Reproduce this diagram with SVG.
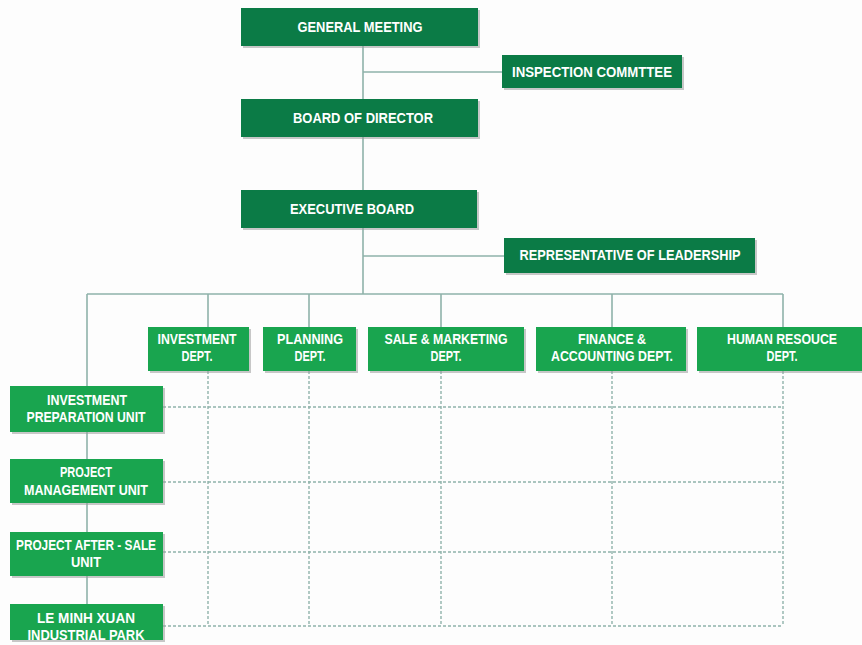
<svg xmlns="http://www.w3.org/2000/svg" width="862" height="645" viewBox="0 0 862 645">
  <style>
    .bg { fill: #fdfdfd; }
    .shadow { fill: #9a9a9a; opacity: 0.55; }
    .dark { fill: #0b7b46; }
    .light { fill: #19a54f; }
    .label { font-family: "Liberation Sans", Arial, sans-serif; font-weight: bold; font-size: 14px; fill: #ffffff; text-anchor: middle; }
    .line { stroke: #8fb2aa; stroke-width: 1.6; fill: none; }
    .dash { stroke: #8fb2aa; stroke-width: 1.4; fill: none; stroke-dasharray: 3 2; }
  </style>
  <rect class="bg" x="0" y="0" width="862" height="645"/>

  <!-- connectors -->
  <g id="connectors">
    <path class="line" d="M363 46V99 M363 137V190 M363 228V294 M363 72H502 M363 256H504"/>
    <path class="line" d="M87 294H783 M87 294V386 M208 294V327 M309 294V327 M441 294V327 M612 294V327 M783 294V327"/>
    <path class="line" d="M87 432V459 M87 503V532 M87 576V604"/>
    <path class="dash" d="M208 371V626 M309 371V626 M441 371V626 M612 371V626 M783 371V626"/>
    <path class="dash" d="M163 407H783 M163 482H783 M163 552H783 M163 626H783"/>
  </g>

  <!-- upper levels -->
  <g id="general-meeting">
    <rect class="shadow" x="243" y="10" width="237" height="38"/>
    <rect class="dark" x="241" y="8" width="237" height="38"/>
    <text class="label" x="360" y="32" textLength="125" lengthAdjust="spacingAndGlyphs">GENERAL MEETING</text>
  </g>
  <g id="inspection-committee">
    <rect class="shadow" x="504" y="57" width="180" height="33"/>
    <rect class="dark" x="502" y="55" width="180" height="33"/>
    <text class="label" x="592" y="77" textLength="160" lengthAdjust="spacingAndGlyphs">INSPECTION COMMTTEE</text>
  </g>
  <g id="board-of-director">
    <rect class="shadow" x="243" y="101" width="237" height="38"/>
    <rect class="dark" x="241" y="99" width="237" height="38"/>
    <text class="label" x="363" y="123" textLength="140" lengthAdjust="spacingAndGlyphs">BOARD OF DIRECTOR</text>
  </g>
  <g id="executive-board">
    <rect class="shadow" x="243" y="192" width="236" height="38"/>
    <rect class="dark" x="241" y="190" width="236" height="38"/>
    <text class="label" x="352" y="214" textLength="124" lengthAdjust="spacingAndGlyphs">EXECUTIVE BOARD</text>
  </g>
  <g id="representative-of-leadership">
    <rect class="shadow" x="506" y="240" width="251" height="35"/>
    <rect class="dark" x="504" y="238" width="251" height="35"/>
    <text class="label" x="630" y="260" textLength="221" lengthAdjust="spacingAndGlyphs">REPRESENTATIVE OF LEADERSHIP</text>
  </g>

  <!-- departments -->
  <g id="investment-dept">
    <rect class="shadow" x="150" y="329" width="101" height="44"/>
    <rect class="light" x="148" y="327" width="101" height="44"/>
    <text class="label" x="197" y="344" textLength="79" lengthAdjust="spacingAndGlyphs">INVESTMENT</text>
    <text class="label" x="197" y="361" textLength="31" lengthAdjust="spacingAndGlyphs">DEPT.</text>
  </g>
  <g id="planning-dept">
    <rect class="shadow" x="265" y="329" width="93" height="44"/>
    <rect class="light" x="263" y="327" width="93" height="44"/>
    <text class="label" x="310" y="344" textLength="66" lengthAdjust="spacingAndGlyphs">PLANNING</text>
    <text class="label" x="310" y="361" textLength="31" lengthAdjust="spacingAndGlyphs">DEPT.</text>
  </g>
  <g id="sale-marketing-dept">
    <rect class="shadow" x="370" y="329" width="156" height="44"/>
    <rect class="light" x="368" y="327" width="156" height="44"/>
    <text class="label" x="446" y="344" textLength="123" lengthAdjust="spacingAndGlyphs">SALE &amp; MARKETING</text>
    <text class="label" x="446" y="361" textLength="31" lengthAdjust="spacingAndGlyphs">DEPT.</text>
  </g>
  <g id="finance-accounting-dept">
    <rect class="shadow" x="538" y="329" width="150" height="44"/>
    <rect class="light" x="536" y="327" width="150" height="44"/>
    <text class="label" x="612" y="344" textLength="68" lengthAdjust="spacingAndGlyphs">FINANCE &amp;</text>
    <text class="label" x="612" y="361" textLength="122" lengthAdjust="spacingAndGlyphs">ACCOUNTING DEPT.</text>
  </g>
  <g id="human-resource-dept">
    <rect class="shadow" x="699" y="329" width="165" height="44"/>
    <rect class="light" x="697" y="327" width="165" height="44"/>
    <text class="label" x="782" y="344" textLength="110" lengthAdjust="spacingAndGlyphs">HUMAN RESOUCE</text>
    <text class="label" x="782" y="361" textLength="31" lengthAdjust="spacingAndGlyphs">DEPT.</text>
  </g>

  <!-- units -->
  <g id="investment-preparation-unit">
    <rect class="shadow" x="12" y="388" width="153" height="46"/>
    <rect class="light" x="10" y="386" width="153" height="46"/>
    <text class="label" x="87" y="405" textLength="80" lengthAdjust="spacingAndGlyphs">INVESTMENT</text>
    <text class="label" x="86" y="422" textLength="119" lengthAdjust="spacingAndGlyphs">PREPARATION UNIT</text>
  </g>
  <g id="project-management-unit">
    <rect class="shadow" x="12" y="461" width="153" height="44"/>
    <rect class="light" x="10" y="459" width="153" height="44"/>
    <text class="label" x="86" y="477" textLength="52" lengthAdjust="spacingAndGlyphs">PROJECT</text>
    <text class="label" x="86" y="495" textLength="124" lengthAdjust="spacingAndGlyphs">MANAGEMENT UNIT</text>
  </g>
  <g id="project-after-sale-unit">
    <rect class="shadow" x="12" y="534" width="153" height="44"/>
    <rect class="light" x="10" y="532" width="153" height="44"/>
    <text class="label" x="86" y="550" textLength="140" lengthAdjust="spacingAndGlyphs">PROJECT AFTER - SALE</text>
    <text class="label" x="86" y="567" textLength="30" lengthAdjust="spacingAndGlyphs">UNIT</text>
  </g>
  <g id="le-minh-xuan-industrial-park">
    <rect class="shadow" x="12" y="606" width="153" height="36"/>
    <rect class="light" x="10" y="604" width="153" height="36"/>
    <text class="label" x="86" y="623" textLength="98" lengthAdjust="spacingAndGlyphs">LE MINH XUAN</text>
    <text class="label" x="86" y="640" textLength="117" lengthAdjust="spacingAndGlyphs">INDUSTRIAL PARK</text>
  </g>
</svg>
